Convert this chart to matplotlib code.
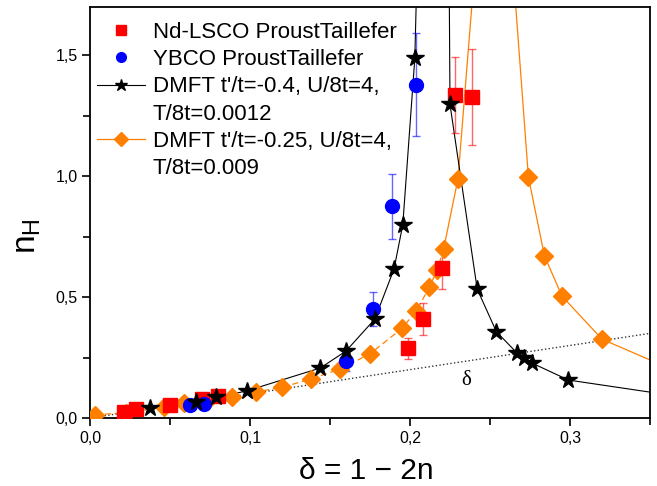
import numpy as np
import matplotlib
matplotlib.use("Agg")
import matplotlib.pyplot as plt
from matplotlib.lines import Line2D
from matplotlib.ticker import MultipleLocator, FuncFormatter

plt.rcParams["font.family"] = ["Liberation Sans", "DejaVu Sans"]
plt.rcParams["mathtext.fontset"] = "custom"
plt.rcParams["mathtext.rm"] = "Liberation Sans"
plt.rcParams["mathtext.it"] = "Liberation Sans"

# ---- data
# Nd-LSCO (Proust, Taillefer)
nd_delta = [0.021, 0.029, 0.050, 0.070, 0.080, 0.199, 0.208, 0.220, 0.228, 0.239]
nd_nh = [0.025, 0.037, 0.054, 0.078, 0.093, 0.288, 0.408, 0.621, 1.335, 1.328]
nd_err = [0.0, 0.0, 0.0, 0.0, 0.0, 0.043, 0.066, 0.088, 0.157, 0.200]

# YBCO (Proust, Taillefer)
ybco_delta = [0.0625, 0.071, 0.160, 0.177, 0.189, 0.204]
ybco_nh = [0.054, 0.058, 0.234, 0.450, 0.876, 1.379]
ybco_err = [0.0, 0.0, 0.040, 0.070, 0.135, 0.213]

# DMFT t'/t=-0.4 : markers, then the curve (goes off-scale near the peak)
d04_delta = [0.0375, 0.066, 0.079, 0.098, 0.144, 0.160, 0.178, 0.190, 0.1955,
             0.203, 0.225, 0.242, 0.254, 0.267, 0.271, 0.276, 0.299]
d04_nh = [0.040, 0.066, 0.085, 0.112, 0.207, 0.277, 0.409, 0.616, 0.800,
          1.487, 1.297, 0.533, 0.357, 0.268, 0.249, 0.228, 0.157]
d04_curve_delta = d04_delta[:10] + [0.2042, 0.2245] + d04_delta[10:] + [0.350]
d04_curve_nh = d04_nh[:10] + [1.80, 1.80] + d04_nh[10:] + [0.107]

# DMFT t'/t=-0.25
d025_delta = [0.003, 0.0225, 0.046, 0.059, 0.073, 0.089, 0.104, 0.120, 0.138,
              0.156, 0.175, 0.195, 0.204, 0.212, 0.217, 0.221, 0.230, 0.274,
              0.284, 0.295, 0.320]
d025_nh = [0.013, 0.022, 0.047, 0.061, 0.071, 0.087, 0.108, 0.127, 0.161,
           0.202, 0.265, 0.371, 0.443, 0.540, 0.611, 0.698, 0.990, 0.997,
           0.671, 0.504, 0.326]
# lower branch drawn dashed, upper part solid
d025_low_delta = d025_delta[:16]
d025_low_nh = d025_nh[:16]
d025_up_delta = d025_delta[15:17] + [0.2398, 0.2650] + d025_delta[17:] + [0.350]
d025_up_nh = d025_nh[15:17] + [1.80, 1.80] + d025_nh[17:] + [0.240]

# n_H = delta reference line
ref_delta = [0.0, 0.35]

labels = ["Nd-LSCO ProustTaillefer", "YBCO ProustTaillefer",
          "DMFT t'/t=-0.4, U/8t=4,", "T/8t=0.0012",
          "DMFT t'/t=-0.25, U/8t=4,", "T/8t=0.009"]

RED = "#ff0000"
BLUE = "#0000ff"
ORANGE = "#ff8000"


def comma(v, pos):
    return f"{v:.1f}".replace(".", ",")


def main():
    fig = plt.figure(figsize=(6.57, 4.86), dpi=100)
    ax = fig.add_axes([90 / 657, 68 / 486, 560 / 657, 411 / 486])

    ax.plot(ref_delta, ref_delta, ls=":", color="#333333", lw=1.0, zorder=1)

    # DMFT curves
    ax.plot(d025_low_delta, d025_low_nh, ls=(0, (5, 3)), color=ORANGE, lw=0.9, zorder=2)
    ax.plot(d025_up_delta, d025_up_nh, ls="-", color=ORANGE, lw=0.9, zorder=2)
    ax.plot(d04_curve_delta, d04_curve_nh, ls="-", color="black", lw=0.8, zorder=2)

    # experiments with error bars
    ax.errorbar(nd_delta, nd_nh, yerr=nd_err, fmt="none", ecolor=RED, alpha=0.6,
                elinewidth=1.0, capsize=3, capthick=1.0, zorder=3)
    ax.errorbar(ybco_delta, ybco_nh, yerr=ybco_err, fmt="none", ecolor=BLUE, alpha=0.6,
                elinewidth=1.0, capsize=3, capthick=1.0, zorder=3)

    ax.plot(d025_delta, d025_nh, ls="none", marker="D", ms=9.5, color=ORANGE,
            mec=ORANGE, zorder=4)
    ax.plot(nd_delta, nd_nh, ls="none", marker="s", ms=9.5, color=RED, mec=RED, zorder=4)
    ax.plot(ybco_delta, ybco_nh, ls="none", marker="o", ms=10, color=BLUE, mec=BLUE, zorder=4)
    ax.plot(d04_delta, d04_nh, ls="none", marker="*", ms=13, color="black", mec="black", zorder=5)

    ax.text(0.235, 0.157, "δ", family=["Liberation Serif", "DejaVu Serif"],
            fontsize=15, ha="center", va="center")

    # ---- axes
    ax.set_xlim(0, 0.35)
    ax.set_ylim(0, 1.7)
    ax.xaxis.set_major_locator(MultipleLocator(0.1))
    ax.xaxis.set_minor_locator(MultipleLocator(0.05))
    ax.yaxis.set_major_locator(MultipleLocator(0.5))
    ax.yaxis.set_minor_locator(MultipleLocator(0.25))
    ax.xaxis.set_major_formatter(FuncFormatter(comma))
    ax.yaxis.set_major_formatter(FuncFormatter(comma))
    ax.tick_params(which="both", direction="out", width=1.2, labelsize=11.5,
                   top=False, right=False, pad=3)
    ax.tick_params(which="major", length=6)
    ax.tick_params(which="minor", length=5)
    for s in ax.spines.values():
        s.set_linewidth(1.3)

    ax.text(0.493, -0.1484, "δ = 1 − 2n", transform=ax.transAxes, fontsize=21.5,
            ha="center", va="baseline")
    ax.text(-0.112, 0.443, r"$\mathregular{n_H}$", transform=ax.transAxes,
            fontsize=24, rotation=90, ha="center", va="center")

    # ---- legend (second lines of the DMFT labels as blank entries)
    blank = Line2D([], [], ls="none", marker=None)
    handles = [
        Line2D([], [], ls="none", marker="s", ms=6.5, color=RED),
        Line2D([], [], ls="none", marker="o", ms=7, color=BLUE),
        Line2D([], [], color="black", lw=0.8, marker="*", ms=9),
        blank,
        Line2D([], [], color=ORANGE, lw=0.9, marker="D", ms=7),
        blank,
    ]
    ax.legend(handles, labels, loc="upper left", bbox_to_anchor=(0.0125, 0.9635),
              frameon=False, fontsize=16, borderpad=0, borderaxespad=0,
              handlelength=2.15, handletextpad=0.36, labelspacing=0.28)

    fig.savefig("out.png", dpi=100)
    plt.close(fig)


if __name__ == "__main__":
    main()
